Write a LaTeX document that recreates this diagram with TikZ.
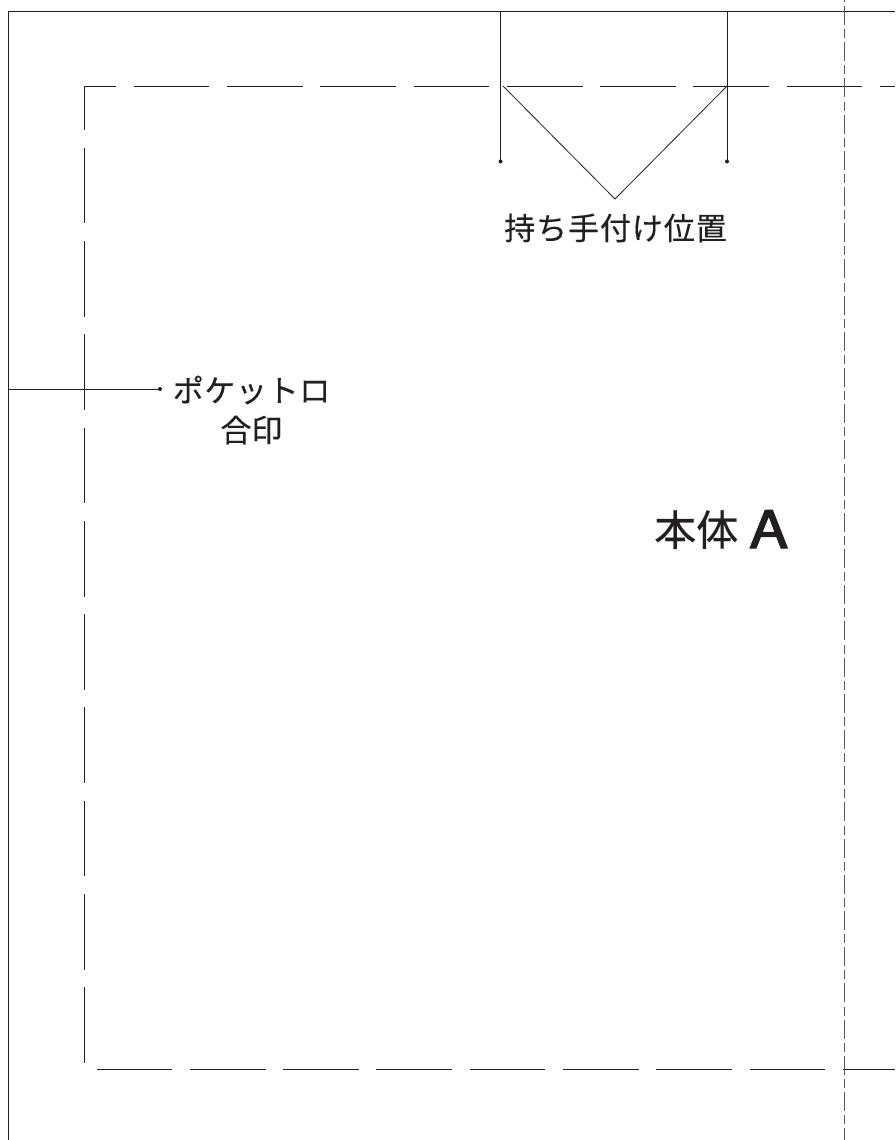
\documentclass[tikz,border=0pt]{standalone}
\usepackage{fontspec}
\setmainfont{Noto Sans CJK JP}
\newfontfamily\latinfont{TeX Gyre Heros}
\definecolor{ink}{HTML}{231F20}
\tikzset{
  x=1pt,y=-1pt,
  outline/.style={draw=ink,line width=0.9pt},
  thinline/.style={draw=ink,line width=0.8pt},
  sewline/.style={draw=ink,line width=0.85pt,dash pattern=on 75.7pt off 17.6pt},
  foldline/.style={draw=ink!75,line width=0.9pt,dash pattern=on 19pt off 4.2pt on 9pt off 4pt},
  mark dot/.style={circle,fill=ink,inner sep=0pt,minimum size=4pt},
  label text/.style={inner sep=0pt,text=ink,font=\fontsize{31}{36}\selectfont,align=center},
}
\begin{document}
\begin{tikzpicture}
\useasboundingbox (0,0) rectangle (895,1140);
\fill[white] (0,0) rectangle (895,1140);
% frame
\coordinate (frameTR) at (895,11);
\coordinate (frameTL) at (8.5,11);
\coordinate (frameBL) at (8.5,1140);
\draw[outline] (frameTR) -- (frameTL) -- (frameBL);
% sewing line
\coordinate (sewTL) at (84,86.5);
\coordinate (sewTR) at (895,86.5);
\coordinate (sewBL) at (84,1063.5);
\coordinate (sewB0) at (96.5,1069.5);
\coordinate (sewBR) at (895,1069.5);
\draw[sewline,dash phase=43.7pt] (sewTL) -- (sewTR);
\draw[sewline,dash phase=32.2pt] (sewTL) -- (sewBL);
\draw[sewline] (sewB0) -- (sewBR);
% fold line
\coordinate (foldT) at (844.5,0);
\coordinate (foldB) at (844.5,1140);
\draw[foldline,dash phase=30.3pt] (foldT) -- (foldB);
% handle marks
\coordinate (hAtop) at (500.5,11);
\coordinate (hBtop) at (727,11);
\node[mark dot] (hAdot) at (500.5,161.5) {};
\node[mark dot] (hBdot) at (727,161.5) {};
\draw[thinline] (hAtop) -- (hAdot.center);
\draw[thinline] (hBtop) -- (hBdot.center);
\coordinate (vA) at (503,86);
\coordinate (vB) at (727,86);
\coordinate (vTip) at (615,199);
\draw[thinline] (vA) -- (vTip) -- (vB);
% pocket mark
\coordinate (pStart) at (8.5,389);
\node[mark dot] (pDot) at (160,389) {};
\draw[thinline] (pStart) -- (pDot.center);
% labels
\node[label text] (handle) at (615.5,228) {\addfontfeature{LetterSpace=3,FakeBold=0.25}持ち手付け位置};
\node[label text] (pocket) at (251.5,390) {\addfontfeature{LetterSpace=2,FakeBold=0.25}ポケットロ};
\node[label text] (match) at (251.5,430) {\addfontfeature{FakeBold=0.25}合印};
\node[inner sep=0pt,text=ink,anchor=base west,font=\fontsize{42}{46}\selectfont] (body) at (654,545.5) {\addfontfeature{FakeBold=0.5}本体};
\node[inner sep=0pt,text=ink,anchor=base west,font=\latinfont\fontsize{52}{56}\selectfont] (bodyA) at (749,548) {\addfontfeature{FakeBold=2.2}\scalebox{1.12}[1]{A}};
\end{tikzpicture}
\end{document}
